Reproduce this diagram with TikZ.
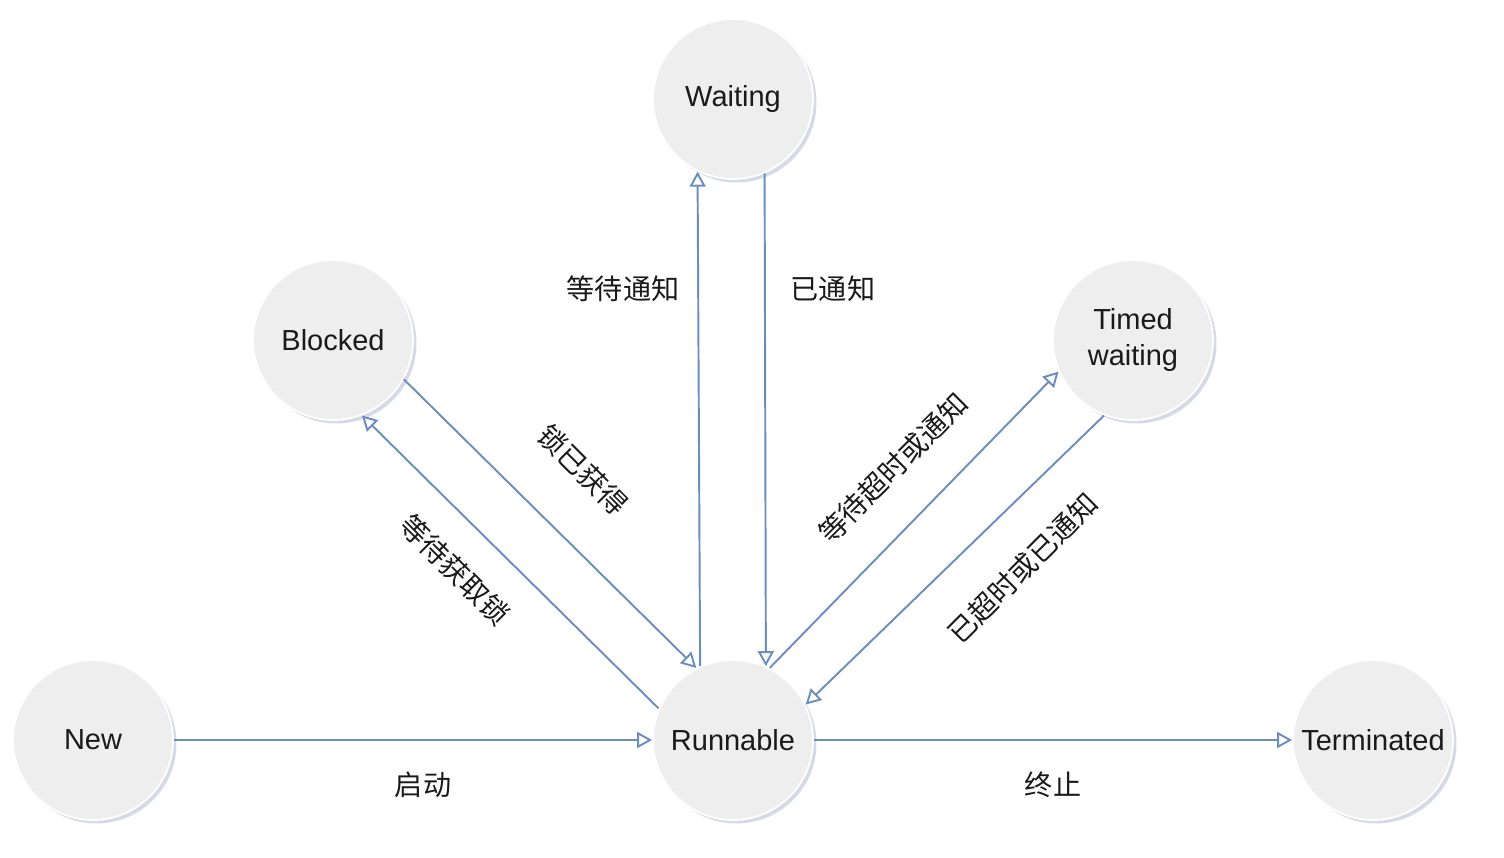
\documentclass[tikz,border=0pt]{standalone}
\usepackage{fontspec}
\setmainfont{Liberation Sans}
\newfontfamily\cjk{Noto Sans CJK SC}
\usetikzlibrary{arrows.meta,shadows}
\definecolor{edgeblue}{HTML}{6C8EBF}
\definecolor{nodefill}{HTML}{EEEEEE}
\definecolor{shadowc}{HTML}{8C93B8}
\definecolor{textc}{HTML}{1A1A1A}
\begin{document}
\begin{tikzpicture}[x=0.02cm,y=-0.02cm,
  state/.style={circle, minimum size=3.2cm, inner sep=0pt, fill=nodefill, draw=white,
    line width=1pt, text=textc, font=\fontsize{16.5}{20.5}\selectfont, align=center,
    drop shadow={shadow xshift=0.07cm, shadow yshift=-0.07cm, fill=shadowc, opacity=0.35}},
  conn/.style={draw=edgeblue, line width=1.1pt, -{Triangle[open,length=0.3cm,width=0.32cm]}},
  lbl/.style={font=\cjk\fontsize{16}{19}\selectfont, inner sep=0pt, text=textc}]
\useasboundingbox[fill=white] (0,0) rectangle (1504,858);

\node[state] (waiting) at (733,99) {Waiting};
\node[state] (blocked) at (333,340) {Blocked};
\node[state] (timed) at (1133,340) {Timed\\waiting};
\node[state] (new) at (93,740) {New};
\node[state] (runnable) at (733,740) {Runnable};
\node[state] (terminated) at (1373,740) {Terminated};

\draw[conn] (new) -- (runnable);
\draw[conn] (runnable) -- (terminated);
\draw[conn] (runnable.114.4) -- (waiting.244);
\draw[conn] (waiting.293.6) -- (runnable.66.4);
\draw[conn] (blocked.-29.7) -- (runnable.117.8);
\draw[conn] (runnable.157) -- (blocked.291);
\draw[conn] (runnable.63.7) -- (timed.203.5);
\draw[conn] (timed.249.4) -- (runnable.26.6);

\node[lbl] (l1) at (423,785) {启动};
\node[lbl] (l2) at (1053,785) {终止};
\node[lbl] (l3) at (623,289) {等待通知};
\node[lbl] (l4) at (833,289) {已通知};
\node[lbl, rotate=-45] (l5) at (583,470) {锁已获得};
\node[lbl, rotate=-45] (l6) at (455,570) {等待获取锁};
\node[lbl, rotate=45] (l7) at (893,468) {等待超时或通知};
\node[lbl, rotate=45] (l8) at (1023,568) {已超时或已通知};
\end{tikzpicture}
\end{document}
